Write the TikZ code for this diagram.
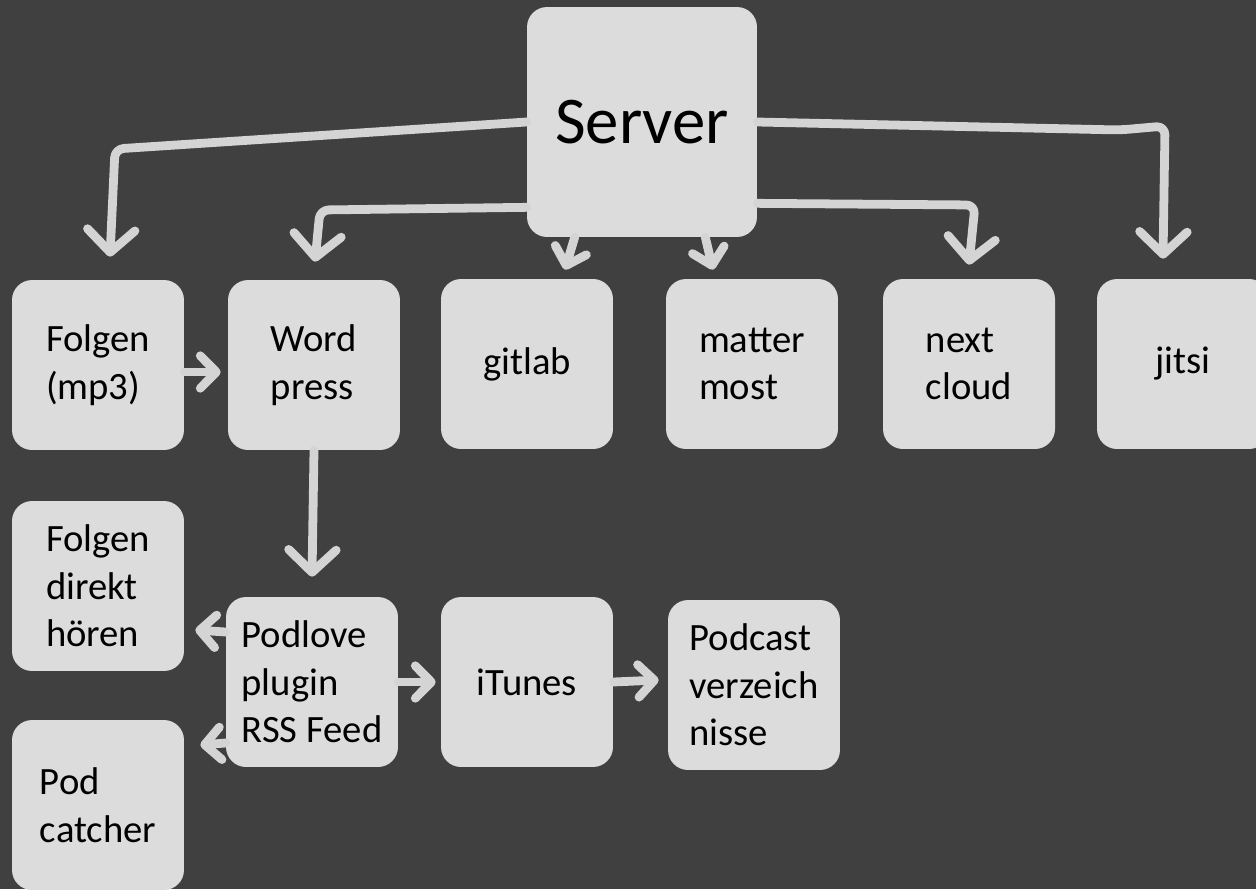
\documentclass[tikz,border=0pt]{standalone}
\usepackage{fontspec}
\setmainfont{Carlito}
\usepackage{tikz}
\usetikzlibrary{arrows.meta}

\definecolor{bggray}{HTML}{404040}
\definecolor{boxgray}{HTML}{DCDCDC}
\definecolor{linegray}{HTML}{D4D4D4}

\tikzset{
	tile/.style={fill=boxgray, rounded corners=0.4cm, minimum width=3.44cm, minimum height=3.4cm, align=left, text=black, font=\fontsize{22}{27}\selectfont},
	flow/.style={draw=linegray, line width=5pt, line cap=round, line join=round, rounded corners=5pt, -{Straight Barb[length=0.45cm,width=0.95cm,round]}},
	short/.style={flow, -{Straight Barb[length=0.32cm,width=0.65cm,round]}},
}

\begin{document}
\begin{tikzpicture}[x=0.02cm, y=-0.02cm]
	\fill[bggray] (0,0) rectangle (1256,889);
	\useasboundingbox (0,0) rectangle (1256,889);
	\clip (0,0) rectangle (1256,889);

	% top
	\node[tile, minimum width=4.6cm, minimum height=4.6cm, font=\fontsize{38}{40}\selectfont] (server) at (642,122) {Server};

	% second row
	\node[tile] (mp3) at (98,365) {Folgen\\(mp3)};
	\node[tile] (wp) at (314,365) {Word\\press};
	\node[tile] (gitlab) at (527,364) {gitlab};
	\node[tile] (mm) at (752,364) {matter\\most};
	\node[tile] (nc) at (969,364) {next\\cloud};
	\node[tile] (jitsi) at (1183,364) {jitsi};

	% podcast part
	\node[tile] (direkt) at (98,586) {Folgen\\direkt\\hören};
	\node[tile] (podlove) at (312,682) {Podlove\\plugin\\RSS Feed};
	\node[tile] (itunes) at (527,682) {iTunes};
	\node[tile] (verz) at (754,685) {Podcast\\verzeich\\nisse};
	\node[tile] (catcher) at (98,805) {Pod\\catcher};

	\draw[flow] (server.west) -- (420,129) -- (115,149) -- ([xshift=0.24cm,yshift=0.46cm]mp3.north);
	\draw[flow] ([yshift=0.6cm]server.south west) -- (320,210) -- ([xshift=0.02cm,yshift=0.36cm]wp.north);
	\draw[short] ([xshift=0.96cm]server.south west) -- ([xshift=0.76cm,yshift=0.18cm]gitlab.north);
	\draw[short] ([xshift=-1.04cm]server.south east) -- ([xshift=-0.78cm,yshift=0.18cm]mm.north);
	\draw[flow] ([yshift=0.68cm]server.south east) -- (975,205) -- ([yshift=0.28cm]nc.north);
	\draw[flow] (server.east) -- (1120,130) -- (1165,126) -- ([xshift=-0.4cm,yshift=0.4cm]jitsi.north);

	\draw[short] ([yshift=-0.14cm]mp3.east) -- ([xshift=-0.14cm,yshift=-0.14cm]wp.west);
	\draw[flow] (wp.south) -- ([yshift=0.4cm]podlove.north);
	\draw[short] ([yshift=1cm]podlove.west) -- ([xshift=0.22cm,yshift=-0.88cm]direkt.east);
	\draw[short] ([yshift=-1.22cm]podlove.west) -- ([xshift=0.32cm,yshift=1.2cm]catcher.east);
	\draw[short] (podlove.east) -- ([xshift=-0.1cm]itunes.west);
	\draw[short] (itunes.east) -- ([xshift=-0.18cm,yshift=0.1cm]verz.west);
\end{tikzpicture}
\end{document}
